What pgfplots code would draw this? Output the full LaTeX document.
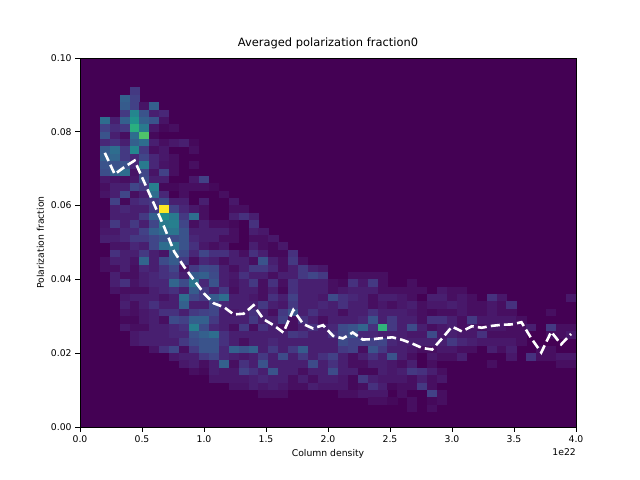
\documentclass[border=0pt]{standalone}
\usepackage{pgfplots}
\pgfplotsset{compat=1.18}
\usepackage{pgfplotstable}
\usepackage{fontspec}
\setmainfont{DejaVu Sans}
\definecolor{vbg}{rgb}{0.267004,0.004874,0.329415}
\pgfdeclareplotmark{cell}{%
  \pgfpathrectangle{\pgfpoint{-5.06bp}{-3.79bp}}{\pgfpoint{10.12bp}{7.58bp}}%
  \pgfusepathqfill}
\pgfplotstableread{
i j c
5 45 25
4 44 40
5 44 28
4 43 38
5 43 28
6 43 10
7 43 40
4 42 25
5 42 55
6 42 35
7 42 15
8 42 18
2 41 45
3 41 15
4 41 40
5 41 60
6 41 40
7 41 35
8 41 10
2 40 28
3 40 20
4 40 25
5 40 70
6 40 50
7 40 12
8 40 5
9 40 8
2 39 35
3 39 15
4 39 8
5 39 45
6 39 78
7 39 5
2 38 18
3 38 22
4 38 15
5 38 40
6 38 45
7 38 15
8 38 8
9 38 12
10 38 15
11 38 5
2 37 38
3 37 45
4 37 25
5 37 55
6 37 25
7 37 8
8 37 12
11 37 8
2 36 40
3 36 42
4 36 25
5 36 18
6 36 30
7 36 18
8 36 12
9 36 8
2 35 35
3 35 35
4 35 35
5 35 18
6 35 50
7 35 18
8 35 10
9 35 8
11 35 8
2 34 33
3 34 40
4 34 45
5 34 10
6 34 30
7 34 10
8 34 28
9 34 8
2 33 12
3 33 10
4 33 8
5 33 12
6 33 32
7 33 15
8 33 15
11 33 12
12 33 28
2 32 8
3 32 15
4 32 15
5 32 30
6 32 25
7 32 52
8 32 5
9 32 5
10 32 8
11 32 8
12 32 8
13 32 5
2 31 10
3 31 15
4 31 30
5 31 8
6 31 15
7 31 45
8 31 18
10 31 8
14 31 8
3 30 28
4 30 5
5 30 18
6 30 22
7 30 25
8 30 32
9 30 15
10 30 15
12 30 15
15 30 12
3 29 15
4 29 18
5 29 15
6 29 15
7 29 25
8 29 100
9 29 28
10 29 18
11 29 12
12 29 8
15 29 8
16 29 8
3 28 15
4 28 15
5 28 15
6 28 25
7 28 40
8 28 58
9 28 50
10 28 25
11 28 45
12 28 8
15 28 15
16 28 22
17 28 15
2 27 10
3 27 25
4 27 15
5 27 25
6 27 15
7 27 30
8 27 50
9 27 52
10 27 30
11 27 8
12 27 15
13 27 8
14 27 8
15 27 5
17 27 22
2 26 12
3 26 12
4 26 18
5 26 18
6 26 28
7 26 40
8 26 45
9 26 48
10 26 35
11 26 15
12 26 15
13 26 15
14 26 15
15 26 8
17 26 15
18 26 12
2 25 15
3 25 15
4 25 18
5 25 25
6 25 25
7 25 30
8 25 35
9 25 32
10 25 35
11 25 18
12 25 15
13 25 15
14 25 8
15 25 8
17 25 8
18 25 8
19 25 12
3 24 10
4 24 10
5 24 18
6 24 15
7 24 30
8 24 45
9 24 48
10 24 35
11 24 22
12 24 12
13 24 8
14 24 12
17 24 15
18 24 8
19 24 5
20 24 12
3 23 22
4 23 15
5 23 15
6 23 25
7 23 15
8 23 10
9 23 40
10 23 32
11 23 18
12 23 30
13 23 22
14 23 22
15 23 15
16 23 8
17 23 22
18 23 15
19 23 5
20 23 5
21 23 22
2 22 8
3 22 15
4 22 15
5 22 10
6 22 42
7 22 15
8 22 32
9 22 38
10 22 25
11 22 8
12 22 18
13 22 15
14 22 8
15 22 15
16 22 15
17 22 8
18 22 35
19 22 15
20 22 8
21 22 25
22 22 8
2 21 8
3 21 8
4 21 15
5 21 8
6 21 18
7 21 15
8 21 22
9 21 30
10 21 10
11 21 25
12 21 32
13 21 30
14 21 15
15 21 8
16 21 15
17 21 25
18 21 25
19 21 18
20 21 8
21 21 15
22 21 25
23 21 15
24 21 12
3 20 15
4 20 8
5 20 8
6 20 15
7 20 18
8 20 22
9 20 25
10 20 15
11 20 38
12 20 40
13 20 32
14 20 15
15 20 12
16 20 22
17 20 15
18 20 15
19 20 8
20 20 15
21 20 15
22 20 25
23 20 30
24 20 25
27 20 8
28 20 8
29 20 8
30 20 8
3 19 15
4 19 22
5 19 10
6 19 15
7 19 18
8 19 18
9 19 42
10 19 32
11 19 48
12 19 18
13 19 35
14 19 15
15 19 10
16 19 15
17 19 25
18 19 8
19 19 22
20 19 8
21 19 22
22 19 15
23 19 15
24 19 15
25 19 8
26 19 5
27 19 22
28 19 12
29 19 25
30 19 8
33 19 8
3 18 10
4 18 8
5 18 8
6 18 8
7 18 15
8 18 18
9 18 22
10 18 15
11 18 38
12 18 25
13 18 15
14 18 25
15 18 8
16 18 15
17 18 15
18 18 8
19 18 15
20 18 5
21 18 22
22 18 15
23 18 15
24 18 15
25 18 8
26 18 12
27 18 15
28 18 15
29 18 15
30 18 8
31 18 8
32 18 8
33 18 8
34 18 8
36 18 12
37 18 8
38 18 8
4 17 12
5 17 15
6 17 15
7 17 15
8 17 10
9 17 15
10 17 45
11 17 30
12 17 25
13 17 38
14 17 45
15 17 15
16 17 15
17 17 12
18 17 8
19 17 22
20 17 15
21 17 28
22 17 15
23 17 15
24 17 12
25 17 32
26 17 22
27 17 18
28 17 15
29 17 8
30 17 15
31 17 15
32 17 12
33 17 8
35 17 15
36 17 15
37 17 8
38 17 12
39 17 8
41 17 22
42 17 12
49 17 12
4 16 15
5 16 8
6 16 15
7 16 22
8 16 15
9 16 15
10 16 40
11 16 15
12 16 15
13 16 30
14 16 18
15 16 15
16 16 15
17 16 15
18 16 25
19 16 15
20 16 12
21 16 25
22 16 15
23 16 15
24 16 18
25 16 15
26 16 22
27 16 15
28 16 15
29 16 8
30 16 12
31 16 8
32 16 12
33 16 15
34 16 8
35 16 12
36 16 12
37 16 15
38 16 12
39 16 8
40 16 8
41 16 12
42 16 8
43 16 22
4 15 10
5 15 8
6 15 12
7 15 15
8 15 22
9 15 22
10 15 15
11 15 25
12 15 28
13 15 30
14 15 15
15 15 12
16 15 15
17 15 22
18 15 15
19 15 8
20 15 25
21 15 35
22 15 15
23 15 22
24 15 15
25 15 15
26 15 8
27 15 15
28 15 15
29 15 22
30 15 15
31 15 15
32 15 15
33 15 12
34 15 8
35 15 5
36 15 8
37 15 8
38 15 12
39 15 8
40 15 8
41 15 12
42 15 8
43 15 8
47 15 8
4 14 5
5 14 5
6 14 12
7 14 15
8 14 8
9 14 32
10 14 28
11 14 40
12 14 40
13 14 25
14 14 15
15 14 15
16 14 15
17 14 25
18 14 15
19 14 15
20 14 28
21 14 8
22 14 22
23 14 15
24 14 8
25 14 15
26 14 15
27 14 15
28 14 18
29 14 35
30 14 15
31 14 25
32 14 15
33 14 15
34 14 8
35 14 22
36 14 22
37 14 15
38 14 8
39 14 25
40 14 12
41 14 12
42 14 12
43 14 12
44 14 8
4 13 12
5 13 8
6 13 8
7 13 15
8 13 15
9 13 18
10 13 22
11 13 52
12 13 32
13 13 18
14 13 15
15 13 8
16 13 25
17 13 8
18 13 22
19 13 15
20 13 8
21 13 8
22 13 15
23 13 22
24 13 15
25 13 18
26 13 32
27 13 35
28 13 42
29 13 22
30 13 72
31 13 25
32 13 15
33 13 32
34 13 15
35 13 8
36 13 12
37 13 15
38 13 8
39 13 12
40 13 8
41 13 12
42 13 12
43 13 8
44 13 8
45 13 15
47 13 25
48 13 8
49 13 8
5 12 12
6 12 15
7 12 15
8 12 15
9 12 18
10 12 18
11 12 35
12 12 40
13 12 45
14 12 22
15 12 15
16 12 15
17 12 15
18 12 15
19 12 15
20 12 15
21 12 25
22 12 22
23 12 15
24 12 15
25 12 22
26 12 30
27 12 35
28 12 18
29 12 18
30 12 15
31 12 15
32 12 15
33 12 12
34 12 12
35 12 32
36 12 12
37 12 15
38 12 12
39 12 12
40 12 22
41 12 8
42 12 8
43 12 8
44 12 8
47 12 8
48 12 8
49 12 12
5 11 12
6 11 15
7 11 15
8 11 15
9 11 15
10 11 25
11 11 32
12 11 35
13 11 35
14 11 22
15 11 15
16 11 8
17 11 15
18 11 15
19 11 18
20 11 15
21 11 15
22 11 15
23 11 15
24 11 15
25 11 15
26 11 32
27 11 28
28 11 28
29 11 28
30 11 30
31 11 18
32 11 15
33 11 15
34 11 15
35 11 15
36 11 15
37 11 25
38 11 18
39 11 15
40 11 12
41 11 12
42 11 12
43 11 12
44 11 8
7 10 10
8 10 22
9 10 30
10 10 8
11 10 25
12 10 35
13 10 35
14 10 18
15 10 40
16 10 35
17 10 40
18 10 15
19 10 25
20 10 15
21 10 25
22 10 38
23 10 15
24 10 15
25 10 15
26 10 25
27 10 28
28 10 8
29 10 35
30 10 25
31 10 15
32 10 15
33 10 12
34 10 8
35 10 8
36 10 12
37 10 12
38 10 8
39 10 8
41 10 15
42 10 8
43 10 15
46 10 8
47 10 8
9 9 12
10 9 15
11 9 15
12 9 25
13 9 30
14 9 18
15 9 15
16 9 12
17 9 15
18 9 25
19 9 15
20 9 32
21 9 15
22 9 25
23 9 15
24 9 22
25 9 28
26 9 15
27 9 8
28 9 15
29 9 22
30 9 15
31 9 35
32 9 15
33 9 8
35 9 12
36 9 8
37 9 8
38 9 15
43 9 12
45 9 22
46 9 8
47 9 8
48 9 12
49 9 12
10 8 12
11 8 15
12 8 8
13 8 15
14 8 40
15 8 8
16 8 22
17 8 15
18 8 35
19 8 15
20 8 15
21 8 15
22 8 15
23 8 32
24 8 15
25 8 22
26 8 15
27 8 8
28 8 8
29 8 15
30 8 15
31 8 12
32 8 8
33 8 15
35 8 8
41 8 8
48 8 8
49 8 8
11 7 8
12 7 5
13 7 15
14 7 12
15 7 12
16 7 28
17 7 22
18 7 15
19 7 35
20 7 15
21 7 15
22 7 8
23 7 15
24 7 15
25 7 32
26 7 15
27 7 15
28 7 5
29 7 5
30 7 15
31 7 12
32 7 15
33 7 25
34 7 22
35 7 15
36 7 8
13 6 12
14 6 12
15 6 12
16 6 12
17 6 15
18 6 18
19 6 15
20 6 15
21 6 8
22 6 15
23 6 8
24 6 15
25 6 15
26 6 12
27 6 5
28 6 25
29 6 15
30 6 12
31 6 12
32 6 12
33 6 8
34 6 15
35 6 8
36 6 12
15 5 10
16 5 10
17 5 15
18 5 12
19 5 15
20 5 12
21 5 8
22 5 8
23 5 15
24 5 12
25 5 12
26 5 12
27 5 5
28 5 8
29 5 22
30 5 15
31 5 5
32 5 8
33 5 8
34 5 25
35 5 8
18 4 8
19 4 8
20 4 8
26 4 8
27 4 8
28 4 12
29 4 12
30 4 12
32 4 8
35 4 28
36 4 8
29 3 8
30 3 8
31 3 5
33 3 8
35 3 5
36 3 8
33 2 8
35 2 8
}\hist
\begin{document}
\begin{tikzpicture}
\useasboundingbox (-80bp,-53bp) rectangle (560bp,427bp);
\begin{axis}[
  at={(0,0)}, anchor=south west,
  scale only axis, width=496bp, height=369bp,
  xmin=0, xmax=4, ymin=0, ymax=0.1,
  axis background/.style={fill=vbg},
  colormap/viridis, point meta min=0, point meta max=100,
  xtick={0,0.5,1,1.5,2,2.5,3,3.5,4},
  xticklabels={0.0,0.5,1.0,1.5,2.0,2.5,3.0,3.5,4.0},
  ytick={0,0.02,0.04,0.06,0.08,0.1},
  yticklabels={0.00,0.02,0.04,0.06,0.08,0.10},
  tick align=outside, major tick length=4.9bp, tick pos=left,
  tick style={black, line width=0.8bp},
  ticklabel style={font=\fontsize{9.3}{11}\selectfont},
  xlabel={Column density}, ylabel={Polarization fraction},
  label style={font=\fontsize{9.3}{11}\selectfont},
  title={Averaged polarization fraction0},
  title style={font=\fontsize{11.5}{13}\selectfont},
  axis line style={line width=0.8bp},
  axis on top,
]
\addplot[scatter, only marks, mark=cell, clip marker paths=true,
  scatter/use mapped color={draw=none, fill=mapped color},
  point meta=explicit]
  table[x expr={\thisrow{i}*0.08+0.04}, y expr={\thisrow{j}*0.002+0.001},
        meta expr={(\thisrow{c})^1.3/3.98}] {\hist};
\addplot[white, line width=2.6bp, dash pattern=on 9bp off 4.2bp] coordinates {
(0.20,0.0743) (0.28,0.0685) (0.36,0.0705) (0.44,0.0722) (0.52,0.0662)
(0.60,0.0602) (0.68,0.0541) (0.76,0.0475) (0.84,0.0434) (0.92,0.0398)
(1.00,0.0362) (1.08,0.0335) (1.16,0.0325) (1.24,0.0305) (1.32,0.0307)
(1.40,0.0330) (1.48,0.0292) (1.56,0.0276) (1.64,0.0256) (1.72,0.0317)
(1.80,0.0279) (1.88,0.0267) (1.96,0.0276) (2.04,0.0247) (2.12,0.0240)
(2.20,0.0256) (2.28,0.0237) (2.36,0.0238) (2.44,0.0241) (2.52,0.0243)
(2.60,0.0236) (2.68,0.0226) (2.76,0.0214) (2.84,0.0210) (2.92,0.0240)
(3.00,0.0272) (3.08,0.0259) (3.16,0.0273) (3.24,0.0269) (3.32,0.0274)
(3.40,0.0277) (3.48,0.0278) (3.56,0.0284) (3.64,0.0240) (3.72,0.0202)
(3.80,0.0258) (3.88,0.0224) (3.96,0.0252)
};
\end{axis}
\node[anchor=north east, inner sep=0pt, font=\fontsize{9.3}{11}\selectfont] at (496bp,-21bp) {1e22};
\end{tikzpicture}
\end{document}
